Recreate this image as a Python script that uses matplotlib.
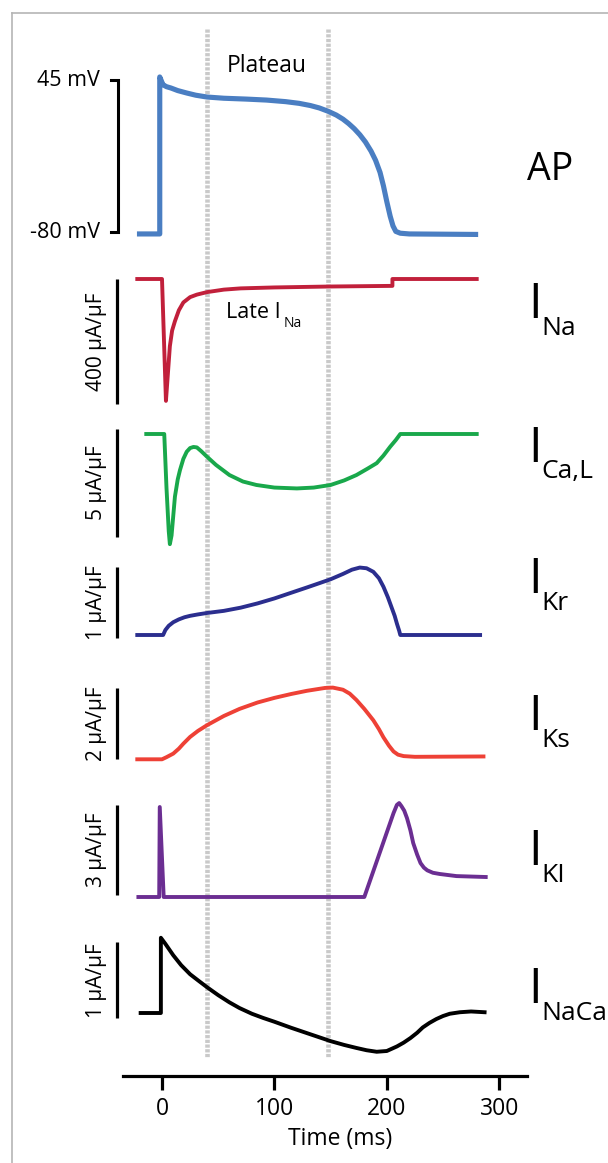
import matplotlib
matplotlib.use("Agg")
import matplotlib.pyplot as plt
from matplotlib.lines import Line2D

plt.rcParams['font.family'] = ['Open Sans', 'DejaVu Sans']

# ---------------- data ----------------
ap_t = [-20, -2, -2, 0, 1, 4, 8, 14, 22, 30, 40, 55, 75, 93, 110, 122, 132, 140, 148, 155, 161,
        166, 171, 176, 181, 186, 190, 194, 197, 200, 203, 205.5, 208, 212, 220, 250, 279]
ap_v = [-81.6, -81.6, 47.5, 43, 41, 39.5, 38.4, 36.3, 34.3, 32.5, 31, 30, 29.3, 28.5, 27.2, 25.8,
        24, 22, 19.2, 16.2, 12.8, 9.2, 5, 0, -6, -13.5, -21, -31, -42, -55, -67, -75, -79.5,
        -81, -81.6, -81.8, -82]

ina_t = [-22, 0, 3.5, 5.5, 7, 9, 11.5, 15, 19, 25, 31, 40, 55, 70, 100, 150, 205, 205, 280]
ina_v = [0, 0, -390, -290, -215, -165, -135, -100, -75, -58, -50, -42, -34, -30, -27, -24, -22, 0, 0]

ical_t = [-14, 2, 4, 6, 7, 8.5, 10, 11.5, 14, 16, 19, 22, 25, 28, 31, 35, 40, 48, 60, 72, 84,
          100, 120, 135, 150, 162, 173, 183, 191, 197, 203, 208, 212, 280]
ical_v = [0, 0, -2.5, -4.5, -5.1, -4.7, -3.8, -2.9, -2.1, -1.67, -1.15, -0.82, -0.65, -0.6, -0.62,
          -0.8, -1.05, -1.43, -1.9, -2.2, -2.36, -2.48, -2.52, -2.48, -2.36, -2.15, -1.9, -1.6,
          -1.35, -1.0, -0.59, -0.28, 0, 0]

ikr_t = [-22, 1, 3, 6, 10, 15, 20, 25, 32, 40, 55, 70, 85, 100, 114, 129, 140, 150, 161, 169,
         176, 182, 188, 193, 197, 201, 204, 207, 209, 211, 212, 283]
ikr_v = [0, 0, 0.07, 0.13, 0.18, 0.22, 0.25, 0.27, 0.29, 0.31, 0.34, 0.385, 0.445, 0.515, 0.59,
         0.67, 0.73, 0.785, 0.86, 0.92, 0.95, 0.94, 0.89, 0.8, 0.68, 0.53, 0.4, 0.27, 0.16, 0.06,
         0, 0]

iks_t = [-22, 0, 4, 10, 15, 19, 25, 32, 40, 55, 69, 85, 100, 115, 129, 145, 152, 161, 167, 173,
         180, 188, 193, 197, 202, 206, 210, 215, 225, 286]
iks_v = [0, 0, 0.06, 0.16, 0.3, 0.44, 0.63, 0.8, 0.96, 1.22, 1.42, 1.6, 1.73, 1.84, 1.93, 2.01,
         2.02, 1.96, 1.85, 1.67, 1.42, 1.1, 0.85, 0.62, 0.38, 0.22, 0.13, 0.09, 0.07, 0.08]

ik1_t = [-21, -2.5, -2, 1.5, 180, 206, 209, 211, 213, 215.5, 218, 221, 223.5, 227, 230, 233, 236,
         241, 247, 262, 288]
ik1_v = [0, 0, 2.97, 0, 0, 2.77, 3.04, 3.1, 3.0, 2.85, 2.6, 2.2, 1.78, 1.4, 1.12, 0.97, 0.88,
         0.8, 0.76, 0.69, 0.66]

inaca_t = [-19, -1, -1, 3, 10, 17, 25, 32, 40, 50, 60, 69, 80, 90, 100, 115, 129, 140, 150, 162,
           173, 182, 191, 200, 209, 215, 221, 227, 232, 238, 244, 250, 256, 265, 275, 287]
inaca_v = [0, 0, 0.99, 0.91, 0.76, 0.63, 0.51, 0.43, 0.34, 0.235, 0.14, 0.065, -0.01, -0.065, -0.115,
           -0.195, -0.265, -0.32, -0.37, -0.42, -0.46, -0.49, -0.51, -0.5, -0.44, -0.39, -0.33,
           -0.26, -0.19, -0.13, -0.08, -0.04, -0.01, 0.01, 0.02, 0.01]

plateau_bounds = [40, 148]          # ms, dashed lines
time_ticks = [0, 100, 200, 300]
time_axis_range = [-35, 325]

scale_labels = ["400 \u03bcA/\u03bcF", "5 \u03bcA/\u03bcF", "1 \u03bcA/\u03bcF",
                "2 \u03bcA/\u03bcF", "3 \u03bcA/\u03bcF", "1 \u03bcA/\u03bcF"]
scale_sizes = [400, 5, 1, 2, 3, 1]
ap_scale = [-80, 45]
current_main = ["I", "I", "I", "I", "I", "I"]
current_subs = ["Na", "Ca,L", "Kr", "Ks", "KI", "NaCa"]

# ---------------- layout ----------------
W, H, DPI = 608, 1163, 100
X0_PX, PX_PER_MS = 162.0, 1.124
fig = plt.figure(figsize=(W / DPI, H / DPI), dpi=DPI)
fig.patch.set_facecolor("white")
xlim = ((0 - X0_PX) / PX_PER_MS, (W - X0_PX) / PX_PER_MS)


def fx(px):
    return px / W


def fy(py):
    return 1 - py / H


def overlay(ref_val, ref_px, ppu):
    ax = fig.add_axes([0, 0, 1, 1])
    ax.set_xlim(xlim)
    ax.set_ylim(ref_val - (H - ref_px) / ppu, ref_val + ref_px / ppu)
    ax.axis("off")
    ax.patch.set_alpha(0)
    return ax


# border (cropped frame)
fig.add_artist(Line2D([fx(12), fx(12)], [0, fy(13)], color="#b5b5b5", lw=1.2))
fig.add_artist(Line2D([fx(12), 1], [fy(13), fy(13)], color="#b5b5b5", lw=1.2))

# dashed plateau lines
axg = overlay(0, 0, -1)  # y in pixel units (downwards)
axg.set_ylim(H, 0)
for b in plateau_bounds:
    axg.plot([b, b], [29, 1057], color="#c9c9c9", lw=3.3,
             linestyle=(0, (0.7, 0.33)), solid_capstyle="butt", zorder=0)

BAR_T = -40
LW = 2.8

# AP
ax = overlay(-80, 232, 1.216)
ax.plot(ap_t, ap_v, color="#4a7ec2", lw=3.7, solid_joinstyle="round", zorder=3)
ax.plot([-45.4, -39, -39, -45.4], [ap_scale[1], ap_scale[1], ap_scale[0], ap_scale[0]],
        color="black", lw=2.2, solid_joinstyle="miter")
ax.text(-55, 45, "45 mV", ha="right", va="center", fontsize=15.5)
ax.text(-55, -80, "-80 mV", ha="right", va="center", fontsize=15.5)

panels = [
    (ina_t, ina_v, "#c1203b", (0, 279, 0.3125), 0),
    (ical_t, ical_v, "#19a84b", (0, 434, 21.6), 0.23),
    (ikr_t, ikr_v, "#2b2e8e", (0, 635, 71), -0.04),
    (iks_t, iks_v, "#ee4136", (0, 759.3, 35.5), 0),
    (ik1_t, ik1_v, "#6b2e92", (0, 897, 30.3), 0.05),
    (inaca_t, inaca_v, "#000000", (0, 1013, 76), -0.07),
]
for i, (t, v, col, spec, bar_ref) in enumerate(panels):
    ax = overlay(*spec)
    ax.plot(t, v, color=col, lw=LW, solid_joinstyle="round", zorder=3)
    size = scale_sizes[i]
    if i in (0, 1):
        lo, hi = bar_ref - size, bar_ref
    else:
        lo, hi = bar_ref, bar_ref + size
    ax.plot([BAR_T, BAR_T], [lo, hi], color="black", lw=2.3, solid_capstyle="butt")
    ax.text(-58, (lo + hi) / 2, scale_labels[i], rotation=90, ha="center", va="center",
            fontsize=15)

# right-hand labels
fig.text(fx(527), fy(170), "AP", fontsize=27, ha="left", va="center")
label_pos = [(318, 335), (462, 478), (593, 610), (730, 747), (865, 882), (1003, 1020)]
for (ib, sb), main, sub in zip(label_pos, current_main, current_subs):
    fig.text(fx(528), fy(ib), main, fontsize=35, ha="left", va="baseline")
    fig.text(fx(541), fy(sb), sub, fontsize=19, ha="left", va="baseline")

# annotations
fig.text(fx(266.5), fy(71.7), "Plateau", fontsize=16.5, ha="center", va="baseline")
fig.text(fx(226), fy(318), "Late I", fontsize=15.5, ha="left", va="baseline")
fig.text(fx(284), fy(327), "Na", fontsize=10, ha="left", va="baseline")

# time axis
axt = fig.add_axes([0, fy(1076), 1, 0.01])
axt.set_xlim(xlim)
axt.patch.set_alpha(0)
for s in ["top", "left", "right"]:
    axt.spines[s].set_visible(False)
axt.spines["bottom"].set_bounds(*time_axis_range)
axt.spines["bottom"].set_linewidth(2.3)
axt.set_yticks([])
axt.set_xticks(time_ticks)
axt.set_xticklabels([str(v) for v in time_ticks], fontsize=16.5)
axt.tick_params(axis="x", direction="out", length=10, width=2.3, pad=5)
fig.text(fx(340), fy(1139), "Time (ms)", fontsize=16.5, ha="center", va="center")

fig.savefig("out.png", dpi=DPI)
